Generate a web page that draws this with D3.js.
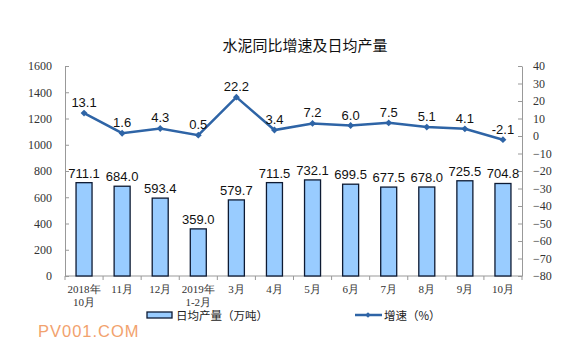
<!DOCTYPE html>
<html><head><meta charset="utf-8">
<script src="https://cdn.jsdelivr.net/npm/d3@7/dist/d3.min.js"></script>
<style>body{margin:0;background:#fff}svg{display:block}</style>
</head><body>
<script>
const categories = ["2018年\n10月","11月","12月","2019年\n1-2月","3月","4月","5月","6月","7月","8月","9月","10月"];
const output = [711.1,684.0,593.4,359.0,579.7,711.5,732.1,699.5,677.5,678.0,725.5,704.8];
const growth = [13.1,1.6,4.3,0.5,22.2,3.4,7.2,6.0,7.5,5.1,4.1,-2.1];
const leftTicks = [0,200,400,600,800,1000,1200,1400,1600];
const rightTicks = [40,30,20,10,0,-10,-20,-30,-40,-50,-60,-70,-80];

const W=586,H=357;
const m={l:65,r:522,t:66,b:276};
const svg=d3.select("body").append("svg").attr("width",W).attr("height",H);

svg.append("text").attr("x",305).attr("y",51).attr("text-anchor","middle")
  .attr("font-family","Noto Sans CJK SC").attr("font-size",15).attr("fill","#111")
  .text("水泥同比增速及日均产量");

const x=d3.scaleBand().domain(categories.map((d,i)=>i)).range([m.l,m.r]);
const yL=d3.scaleLinear().domain([0,1600]).range([m.b,m.t]);
const yR=d3.scaleLinear().domain([-80,40]).range([m.b,m.t]);

const axisColor="#999";
const serif="Liberation Serif";
// left axis
const gL=svg.append("g").attr("transform",`translate(${m.l},0)`)
  .call(d3.axisLeft(yL).tickValues(leftTicks).tickFormat(d3.format("d")).tickSizeInner(-4).tickSizeOuter(0).tickPadding(13));
gL.select(".domain").attr("stroke",axisColor);
gL.selectAll(".tick line").attr("stroke",axisColor);
gL.selectAll("text").attr("font-family",serif).attr("font-size",12).attr("fill","#333");
// right axis
const gR=svg.append("g").attr("transform",`translate(${m.r},0)`)
  .call(d3.axisRight(yR).tickValues(rightTicks).tickFormat(d3.format("d")).tickSizeInner(-4).tickSizeOuter(0).tickPadding(11));
gR.select(".domain").attr("stroke",axisColor);
gR.selectAll(".tick line").attr("stroke",axisColor);
gR.selectAll("text").attr("font-family",serif).attr("font-size",12).attr("fill","#333");
// bottom axis
svg.append("line").attr("x1",m.l).attr("x2",m.r).attr("y1",m.b).attr("y2",m.b).attr("stroke",axisColor);
svg.append("g").selectAll("line").data(d3.range(categories.length+1)).join("line")
  .attr("x1",i=>m.l+i*x.step()).attr("x2",i=>m.l+i*x.step())
  .attr("y1",m.b).attr("y2",m.b+4).attr("stroke",axisColor);
// category labels
const cl=svg.append("g").selectAll("text").data(categories).join("text")
  .attr("x",(d,i)=>x(i)+x.bandwidth()/2).attr("y",m.b+17)
  .attr("text-anchor","middle").attr("font-family",serif).attr("font-size",11).attr("fill","#333");
cl.each(function(d){
  const t=d3.select(this);
  d.split("\n").forEach((s,j)=>t.append("tspan").attr("x",t.attr("x")).attr("dy",j?13:0).text(s));
});

// bars
const bw=16;
svg.append("g").selectAll("rect").data(output).join("rect")
  .attr("x",(d,i)=>x(i)+x.bandwidth()/2-bw/2).attr("width",bw)
  .attr("y",d=>yL(d)).attr("height",d=>m.b-yL(d))
  .attr("fill","#99CCFF").attr("stroke","#0d1a33").attr("stroke-width",1.3);
svg.append("g").selectAll("text").data(output).join("text")
  .attr("x",(d,i)=>x(i)+x.bandwidth()/2).attr("y",d=>yL(d)-5)
  .attr("text-anchor","middle").attr("font-family","Liberation Sans").attr("font-size",13).attr("fill","#111")
  .text(d=>d.toFixed(1));

// line
const lineColor="#2E64A6";
const line=d3.line().x((d,i)=>x(i)+x.bandwidth()/2).y(d=>yR(d));
svg.append("path").datum(growth).attr("d",line).attr("fill","none").attr("stroke",lineColor).attr("stroke-width",2.5);
svg.append("g").selectAll("path").data(growth).join("path")
  .attr("d",d3.symbol(d3.symbolDiamond2,30))
  .attr("transform",(d,i)=>`translate(${x(i)+x.bandwidth()/2},${yR(d)})`).attr("fill",lineColor);
svg.append("g").selectAll("text").data(growth).join("text")
  .attr("x",(d,i)=>x(i)+x.bandwidth()/2).attr("y",d=>yR(d)-6)
  .attr("text-anchor","middle").attr("font-family","Liberation Sans").attr("font-size",13).attr("fill","#111")
  .text(d=>d.toFixed(1));

// legend
svg.append("rect").attr("x",147).attr("y",312).attr("width",25).attr("height",6)
  .attr("fill","#99CCFF").attr("stroke","#0d1a33").attr("stroke-width",1.3);
svg.append("text").attr("x",176).attr("y",320).attr("font-family","Noto Sans CJK SC").attr("font-size",11.5).attr("fill","#222")
  .text("日均产量（万吨）");
svg.append("line").attr("x1",355).attr("x2",382).attr("y1",315).attr("y2",315).attr("stroke",lineColor).attr("stroke-width",2.5);
svg.append("path").attr("d",d3.symbol(d3.symbolDiamond2,20)).attr("transform","translate(368,315)").attr("fill",lineColor);
svg.append("text").attr("x",384).attr("y",320).attr("font-family","Noto Sans CJK SC").attr("font-size",11.5).attr("fill","#222")
  .text("增速（%）");

// watermark
svg.append("text").attr("x",38).attr("y",337).attr("font-family","Liberation Sans").attr("font-size",16.5)
  .attr("letter-spacing",1).attr("fill","#F2A26E").text("PV001.COM");
</script>
</body></html>
